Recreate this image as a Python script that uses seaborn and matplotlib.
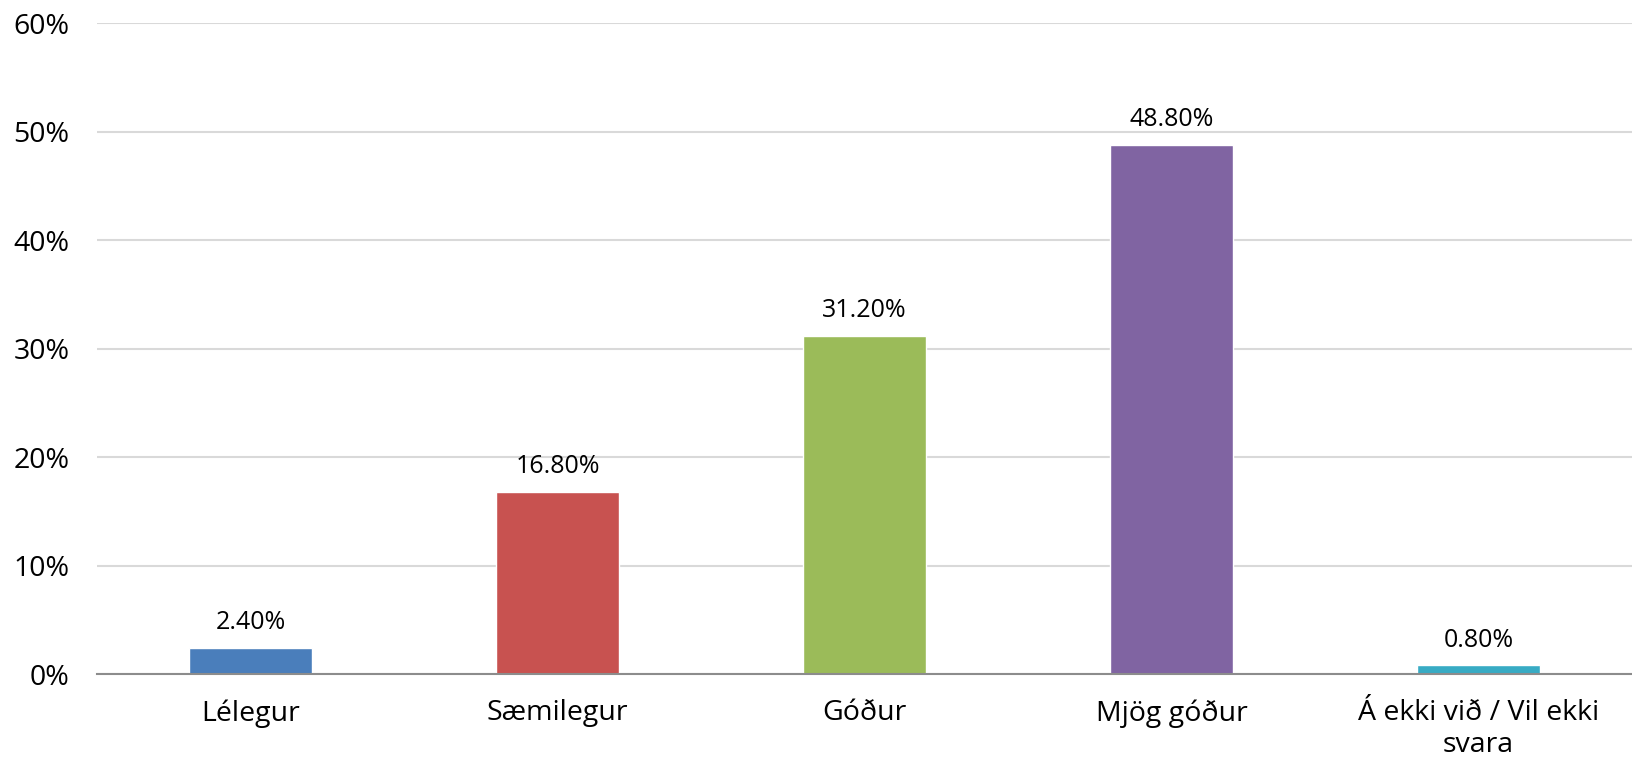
import matplotlib
matplotlib.use('Agg')
import matplotlib.pyplot as plt
import seaborn as sns
import pandas as pd
from matplotlib.ticker import PercentFormatter

# Data
categories = ['Lélegur', 'Sæmilegur', 'Góður', 'Mjög góður', 'Á ekki við / Vil ekki\nsvara']
values = [2.4, 16.8, 31.2, 48.8, 0.8]
colors = ['#4A7EBB', '#C85250', '#9BBB59', '#8064A2', '#38ABC4']

df = pd.DataFrame({'category': categories, 'value': values})

sns.set_style('white')
plt.rcParams['font.family'] = ['Open Sans', 'DejaVu Sans']
plt.rcParams['text.color'] = 'black'
plt.rcParams['xtick.color'] = 'black'
plt.rcParams['ytick.color'] = 'black'

fig = plt.figure(figsize=(16.33, 7.69), dpi=100)
ax = fig.add_axes([0.0594, 0.1235, 0.9400, 0.8465])

sns.barplot(data=df, x='category', y='value', hue='category', palette=colors,
            width=0.4, legend=False, ax=ax, saturation=1)

ax.set_ylim(0, 60)
ax.set_yticks(range(0, 61, 10))
ax.yaxis.set_major_formatter(PercentFormatter(decimals=0))
ax.grid(axis='y', color='#D9D9D9', linewidth=1.5)
ax.set_axisbelow(True)
for s in ['top', 'right', 'left']:
    ax.spines[s].set_visible(False)
ax.spines['bottom'].set_color('#8C8C8C')
ax.spines['bottom'].set_linewidth(1.5)
ax.set_xlabel('')
ax.set_ylabel('')
ax.tick_params(axis='y', length=0, labelsize=20.5, pad=20)
ax.tick_params(axis='x', length=0, labelsize=20.5, pad=18)

for i, v in enumerate(values):
    ax.annotate(f'{v:.2f}%', (i, v), xytext=(0, 9), textcoords='offset points',
                ha='center', va='bottom', fontsize=18)

fig.savefig('out.png', dpi=100)
